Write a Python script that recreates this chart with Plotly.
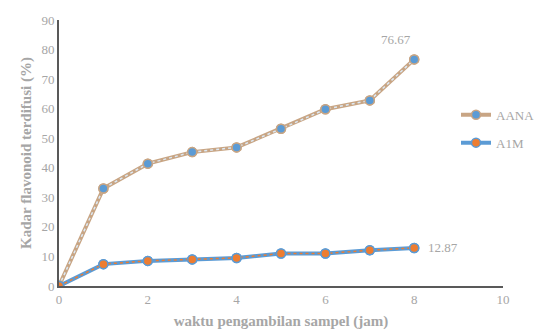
import plotly.graph_objects as go

# Sampling time (hours) and diffused flavonoid content (%)
waktu = [0, 1, 2, 3, 4, 5, 6, 7, 8]
aana = [0, 33.0, 41.4, 45.3, 46.9, 53.2, 59.8, 62.8, 76.67]
a1m = [0, 7.4, 8.5, 9.0, 9.5, 11.0, 11.0, 12.1, 12.87]

TAN = "#c8a584"
BLUE = "#5b9bd5"
ORANGE = "#ed7d31"
TXT = "#a6a6a6"
FONT = "Liberation Serif"

fig = go.Figure()


def add_series(name, y, outer, inner, fill, edge):
    # wide outer stroke, carries the legend entry
    fig.add_trace(go.Scatter(
        x=waktu, y=y, name=name, mode="lines+markers",
        line=dict(color=outer, width=4),
        marker=dict(size=9, color=fill, line=dict(color=edge, width=1.5)),
        legendgroup=name,
    ))
    # thin dashed inner stroke
    fig.add_trace(go.Scatter(
        x=waktu, y=y, mode="lines", showlegend=False, hoverinfo="skip",
        line=dict(color=inner, width=1.5, dash="dot"), legendgroup=name,
    ))
    # markers on top
    fig.add_trace(go.Scatter(
        x=waktu, y=y, mode="markers", showlegend=False,
        marker=dict(size=9, color=fill, line=dict(color=edge, width=1.5)),
        legendgroup=name,
    ))


add_series("AANA", aana, TAN, "#dce9f5", BLUE, TAN)
add_series("A1M", a1m, BLUE, ORANGE, ORANGE, BLUE)

# value labels at the final sample
fig.add_annotation(x=waktu[-1], y=aana[-1], text=f"{aana[-1]:.2f}", showarrow=False,
                   yshift=20, xshift=-18, font=dict(family=FONT, size=13, color=TXT))
fig.add_annotation(x=waktu[-1], y=a1m[-1], text=f"{a1m[-1]:.2f}", showarrow=False,
                   xanchor="left", xshift=12, font=dict(family=FONT, size=13, color=TXT))

axis_common = dict(
    showgrid=False, zeroline=False, showline=True, linecolor="#595959", linewidth=2,
    ticks="", automargin=False, tickfont=dict(family=FONT, size=13, color=TXT),
)
# plot area spans 444 px of the 481 px right of the left margin
fig.update_xaxes(range=[0, 10], dtick=2, domain=[0, 444 / 481], **axis_common,
                 title=dict(text="<b>waktu pengambilan sampel (jam)</b>", standoff=10,
                            font=dict(family=FONT, size=15, color=TXT)))
fig.update_yaxes(range=[0, 90], dtick=10, **axis_common,
                 title=dict(text="<b>Kadar flavonoid terdifusi (%)</b>", standoff=6,
                            font=dict(family=FONT, size=15, color=TXT)))

fig.update_layout(
    width=540, height=334,
    margin=dict(l=59, r=0, t=20, b=48),
    paper_bgcolor="white", plot_bgcolor="white",
    legend=dict(x=1.0, y=0.70, xanchor="right", yanchor="top",
                font=dict(family=FONT, size=13, color=TXT),
                bgcolor="rgba(0,0,0,0)", tracegroupgap=8, itemwidth=30),
)

fig.write_html("out.html")
